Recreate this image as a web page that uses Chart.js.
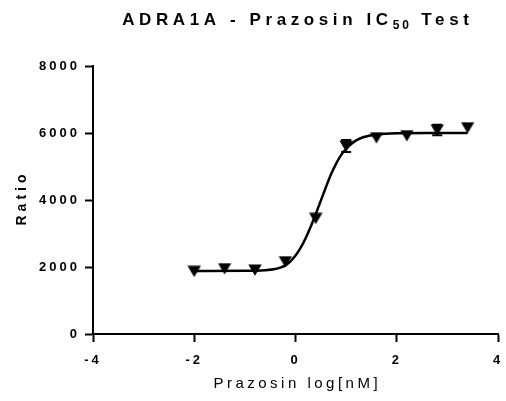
<!DOCTYPE html>
<html>
<head>
<meta charset="utf-8">
<script src="https://cdn.jsdelivr.net/npm/chart.js@4.4.0/dist/chart.umd.min.js"></script>
<style>
  html, body { margin: 0; padding: 0; background: #fff; }
  #wrap { width: 506px; height: 401px; }
</style>
</head>
<body>
<div id="wrap"><canvas id="ic50Chart" width="506" height="401"></canvas></div>
<script>
// Prazosin dilutions, log[nM]
const logDoses = [-2.0, -1.4, -0.8, -0.2, 0.4, 1.0, 1.6, 2.2, 2.8, 3.4];
const meanRatio = [1870, 1950, 1910, 2160, 3450, 5610, 5860, 5920, 6090, 6160];
// SD; 0 where the bar is hidden behind the symbol
const sdRatio = [0, 0, 0, 0, 0, 180, 0, 0, 160, 0];

// fitted curve
const fitX = [-2.0, -1.0, -0.6, -0.4, -0.3, -0.2, -0.1, 0.0, 0.1, 0.2, 0.3, 0.4, 0.5, 0.6, 0.7, 0.8, 0.9, 1.0, 1.1, 1.2, 1.35, 1.6, 2.0, 2.6, 3.4];
const fitY = [1880, 1885, 1905, 1940, 1980, 2050, 2170, 2340, 2570, 2860, 3200, 3580, 3980, 4380, 4760, 5080, 5340, 5530, 5670, 5780, 5880, 5950, 5990, 6000, 6000];

const xTicks = [-4, -2, 0, 2, 4];
const yTicks = [0, 2000, 4000, 6000, 8000];

const FONT = '"Liberation Sans", Arial, sans-serif';
const TICK_SPACING = '3px';

// width of a letter spaced string, without the trailing gap
function spacedWidth(ctx, text, spacing) {
    ctx.letterSpacing = spacing + 'px';
    return ctx.measureText(text).width - spacing;
}

// down pointing triangle marker, centred on its bounding box
function makeTriangle() {
    const c = document.createElement('canvas');
    c.width = 14;
    c.height = 12;
    const g = c.getContext('2d');
    g.fillStyle = '#000';
    g.beginPath();
    g.moveTo(0.3, 0.5);
    g.lineTo(13.7, 0.5);
    g.lineTo(7, 11.8);
    g.closePath();
    g.fill();
    return c;
}

// title and axis titles (letter spaced, subscript in the title)
const labelsPlugin = {
    id: 'labels',
    beforeUpdate(chart) {
        chart.ctx.letterSpacing = TICK_SPACING;
    },
    beforeLayout(chart) {
        chart.ctx.letterSpacing = TICK_SPACING;
    },
    beforeDraw(chart) {
        chart.ctx.letterSpacing = TICK_SPACING;
    },
    afterDraw(chart) {
        const { ctx, chartArea } = chart;
        const cx = (chartArea.left + chartArea.right) / 2;
        const cy = (chartArea.top + chartArea.bottom) / 2;
        ctx.save();
        ctx.fillStyle = '#000';
        ctx.textAlign = 'left';
        ctx.textBaseline = 'alphabetic';

        // main title
        const parts = [
            { text: 'ADRA1A - Prazosin IC', font: 'bold 17px ' + FONT, sp: 4.6, dy: 0 },
            { text: '50', font: 'bold 12px ' + FONT, sp: 3, dy: 4 },
            { text: ' Test', font: 'bold 17px ' + FONT, sp: 4.6, dy: 0 }
        ];
        let total = 0;
        parts.forEach(p => {
            ctx.font = p.font;
            ctx.letterSpacing = p.sp + 'px';
            p.w = ctx.measureText(p.text).width;
            total += p.w;
        });
        total -= parts[parts.length - 1].sp;
        let x = cx - total / 2;
        parts.forEach(p => {
            ctx.font = p.font;
            ctx.letterSpacing = p.sp + 'px';
            ctx.fillText(p.text, x, 25 + p.dy);
            x += p.w;
        });

        // x axis title
        ctx.font = '15px ' + FONT;
        const xw = spacedWidth(ctx, 'Prazosin log[nM]', 3.5);
        ctx.textBaseline = 'middle';
        ctx.fillText('Prazosin log[nM]', cx - xw / 2, 384);

        // y axis title
        ctx.font = 'bold 14px ' + FONT;
        const yw = spacedWidth(ctx, 'Ratio', 4);
        ctx.translate(22, cy);
        ctx.rotate(-Math.PI / 2);
        ctx.fillText('Ratio', -yw / 2, 0);
        ctx.restore();
    }
};

// error bars (mean +/- SD) drawn through the chart scales, behind the markers
const errorBarPlugin = {
    id: 'errorBars',
    beforeDatasetsDraw(chart) {
        const { ctx } = chart;
        const xs = chart.scales.x;
        const ys = chart.scales.y;
        ctx.save();
        ctx.strokeStyle = '#000';
        ctx.lineWidth = 2;
        for (let i = 0; i < logDoses.length; i++) {
            if (!sdRatio[i]) continue;
            const px = xs.getPixelForValue(logDoses[i]);
            const top = ys.getPixelForValue(meanRatio[i] + sdRatio[i]);
            const bot = ys.getPixelForValue(meanRatio[i] - sdRatio[i]);
            ctx.beginPath();
            ctx.moveTo(px, top);
            ctx.lineTo(px, bot);
            ctx.moveTo(px - 5, top);
            ctx.lineTo(px + 5, top);
            ctx.moveTo(px - 5, bot);
            ctx.lineTo(px + 5, bot);
            ctx.stroke();
        }
        ctx.restore();
    }
};

const axisGrid = {
    drawOnChartArea: false,
    drawTicks: true,
    tickLength: 8,
    tickWidth: 2,
    tickColor: '#000'
};

const tickFont = { family: FONT, size: 13, weight: 'bold' };

const ctx = document.getElementById('ic50Chart').getContext('2d');

new Chart(ctx, {
    type: 'scatter',
    data: {
        datasets: [
            {
                label: 'Fit',
                data: fitX.map((x, i) => ({ x: x, y: fitY[i] })),
                showLine: true,
                borderColor: '#000',
                borderWidth: 2.5,
                pointRadius: 0,
                cubicInterpolationMode: 'monotone',
                fill: false,
                order: 2
            },
            {
                label: 'Ratio',
                data: logDoses.map((x, i) => ({ x: x, y: meanRatio[i] })),
                showLine: false,
                pointStyle: makeTriangle(),
                pointRadius: 7,
                order: 1
            }
        ]
    },
    options: {
        responsive: false,
        animation: false,
        layout: { padding: { left: 0, right: 7, top: 66, bottom: 0 } },
        plugins: {
            legend: { display: false },
            tooltip: { enabled: false }
        },
        scales: {
            x: {
                type: 'linear',
                min: -4,
                max: 4,
                afterBuildTicks: s => { s.ticks = xTicks.map(v => ({ value: v })); },
                afterFit: s => {
                    s.height = 67;
                    s.paddingLeft = 0;
                    s.paddingRight = 0;
                },
                grid: axisGrid,
                border: { display: true, color: '#000', width: 2 },
                ticks: {
                    color: '#000',
                    padding: 11,
                    maxRotation: 0,
                    font: tickFont,
                    callback: v => String(v)
                }
            },
            y: {
                type: 'linear',
                min: 0,
                max: 8000,
                afterBuildTicks: s => { s.ticks = yTicks.map(v => ({ value: v })); },
                afterFit: s => {
                    s.width = 93;
                    s.paddingTop = 0;
                    s.paddingBottom = 0;
                },
                grid: axisGrid,
                border: { display: true, color: '#000', width: 2 },
                ticks: {
                    color: '#000',
                    padding: 5,
                    font: tickFont,
                    callback: v => String(v)
                }
            }
        }
    },
    plugins: [labelsPlugin, errorBarPlugin]
});
</script>
</body>
</html>
